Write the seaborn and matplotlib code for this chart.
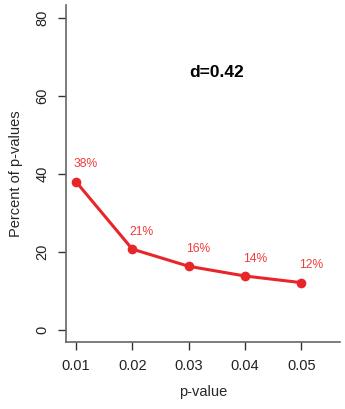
import matplotlib
matplotlib.use("Agg")
import matplotlib.pyplot as plt
import seaborn as sns
import pandas as pd

p_values = [0.01, 0.02, 0.03, 0.04, 0.05]
percents = [38.0, 20.7, 16.3, 13.8, 12.1]
point_labels = ["38%", "21%", "16%", "14%", "12%"]
x_ticks = [0.01, 0.02, 0.03, 0.04, 0.05]
x_ticklabels = ["0.01", "0.02", "0.03", "0.04", "0.05"]
y_ticks = [0, 20, 40, 60, 80]
title_text = "d=0.42"

sns.set_style("white")
plt.rcParams['font.family'] = ['Liberation Sans', 'DejaVu Sans']

df = pd.DataFrame({"p": p_values, "pct": percents})

fig = plt.figure(figsize=(3.45, 4.09), dpi=100)
ax = fig.add_axes([0.191, 0.164, 0.795, 0.824])

red = "#e8262a"
sns.lineplot(data=df, x="p", y="pct", ax=ax, color=red, linewidth=2.2,
             marker="o", markersize=7, markeredgewidth=0, markeredgecolor=red)

for x, y, lab in zip(p_values, percents, point_labels):
    ax.annotate(lab, (x, y), xytext=(7, 12.5), textcoords="offset points",
                ha="center", va="center", color="#f03c3c", fontsize=8.7)

ax.text(0.035, 66, title_text, ha="center", va="center",
        fontsize=12.5, fontweight="bold", color="black")

ax.set_xlim(0.00822, 0.0569)
ax.set_ylim(-3.1, 83.3)
ax.set_xticks(x_ticks)
ax.set_xticklabels(x_ticklabels, fontsize=10.5)
ax.set_yticks(y_ticks)
ax.set_yticklabels([str(v) for v in y_ticks], fontsize=10.5, rotation=90, va="center")
ax.set_xlabel("p-value", fontsize=10.5, labelpad=9)
ax.set_ylabel("Percent of p-values", fontsize=10.5, labelpad=9)

for s in ["top", "right"]:
    ax.spines[s].set_visible(False)
for s in ["left", "bottom"]:
    ax.spines[s].set_color("#666666")
    ax.spines[s].set_linewidth(1.2)
ax.tick_params(axis="both", direction="out", length=6, width=1, color="#333333",
               labelcolor="#222222", pad=6, bottom=True, left=True)

fig.savefig("out.png", dpi=100)
